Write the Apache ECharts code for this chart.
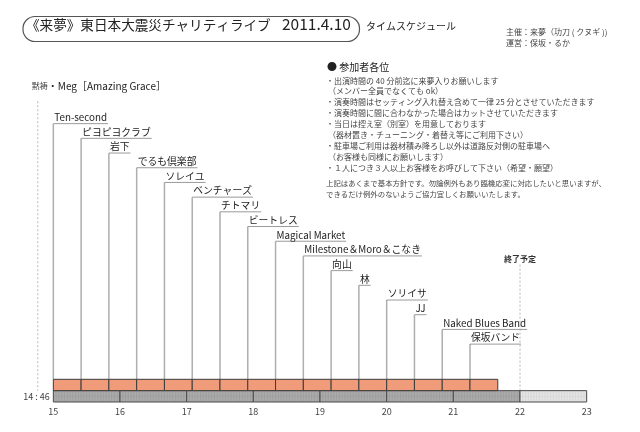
<!DOCTYPE html>
<html>
<head>
<meta charset="utf-8">
<script src="https://cdn.jsdelivr.net/npm/echarts@6/dist/echarts.min.js"></script>
<style>
  html, body { margin: 0; padding: 0; background: #fff; }
  #chart { width: 640px; height: 432px; }
</style>
</head>
<body>
<div id="chart"></div>
<script>
const FONT = '"Noto Sans CJK JP", "Noto Sans", sans-serif';

// 出演者と開始時刻（1 枠 25 分）
const performers = [
  "Ten-second", "ピヨピヨクラブ", "岩下", "でるも倶楽部", "ソレイユ", "ベンチャーズ",
  "チトマリ", "ビートレス", "Magical Market", "Milestone＆Moro＆こなき", "向山", "林",
  "ソリイサ", "JJ", "Naked Blues Band", "保坂バンド"
];
const startTimes = [
  "15:00", "15:25", "15:50", "16:15", "16:40", "17:05", "17:30", "17:55",
  "18:20", "18:45", "19:10", "19:35", "20:00", "20:25", "20:50", "21:15"
];
const slotMinutes = 25;
const hourTicks = [15, 16, 17, 18, 19, 20, 21, 22, 23];

const silenceTime = "14:46";
const silenceLabel = ["黙祷", "・Meg［Amazing Grace］"];
const endTime = "22:00";
const endLabel = "終了予定";

const titleText = "《来夢》東日本大震災チャリティライブ";
const titleDate = "2011.4.10";
const subTitleText = "タイムスケジュール";
const organizers = ["主催：来夢（功刀 ( クヌギ ))", "運営：保坂・るか"];
const noteHeading = "● 参加者各位";
const notes = [
  "・出演時間の 40 分前迄に来夢入りお願いします",
  "（メンバー全員でなくても ok）",
  "・演奏時間はセッティング入れ替え含めて一律 25 分とさせていただきます",
  "・演奏時間に間に合わなかった場合はカットさせていただきます",
  "・当日は控え室（別室）を用意しております",
  "（器材置き・チューニング・着替え等にご利用下さい）",
  "・駐車場ご利用は器材積み降ろし以外は道路反対側の駐車場へ",
  "（お客様も同様にお願いします）",
  "・１人につき３人以上お客様をお呼びして下さい（希望・願望）"
];
const policy = [
  "上記はあくまで基本方針です。勿論例外もあり臨機応変に対応したいと思いますが、",
  "できるだけ例外のないようご協力宜しくお願いいたします。"
];

function toHours(s) {
  const [h, m] = s.split(":").map(Number);
  return h + m / 60;
}

const measureCtx = document.createElement("canvas").getContext("2d");
function textWidth(text, font) {
  measureCtx.font = font;
  return measureCtx.measureText(text).width;
}

const LABEL_FONT = "9.8px " + FONT;
const endHours = toHours(endTime);

// 行の高さ（y 軸の単位）
const GRAY_ROW = [0, 1];
const ORANGE_ROW = [1, 2];
const LABEL_BASE = 5.1;
const LABEL_STEP = 1.295;

const chart = echarts.init(document.getElementById("chart"));

function renderTimeline(params, api) {
  const h0 = api.value(0);
  const h1 = api.value(1);
  const p0 = api.coord([h0, GRAY_ROW[1]]);
  const p1 = api.coord([h1, GRAY_ROW[0]]);
  const after = h0 >= endHours;
  const children = [{
    type: "rect",
    shape: {x: p0[0], y: p0[1], width: p1[0] - p0[0], height: p1[1] - p0[1]},
    style: {fill: after ? "#e4e4e4" : "#ababab", stroke: "none"}
  }];
  // 細かい格子模様
  const steps = 24;
  for (let k = 1; k < steps; k++) {
    const x = p0[0] + (p1[0] - p0[0]) * k / steps;
    children.push({
      type: "line",
      shape: {x1: x, y1: p0[1], x2: x, y2: p1[1]},
      style: {stroke: after ? "#d2d2d2" : "#9a9a9a", lineWidth: 0.7}
    });
  }
  const midY = (p0[1] + p1[1]) / 2;
  children.push({
    type: "line",
    shape: {x1: p0[0], y1: midY, x2: p1[0], y2: midY},
    style: {stroke: after ? "#d6d6d6" : "#9e9e9e", lineWidth: 0.6}
  });
  children.push({
    type: "rect",
    shape: {x: p0[0], y: p0[1], width: p1[0] - p0[0], height: p1[1] - p0[1]},
    style: {fill: "none", stroke: "#4a4a4a", lineWidth: 1}
  });
  return {type: "group", children};
}

function renderSlot(params, api) {
  const t = api.value(0);
  const p0 = api.coord([t, ORANGE_ROW[1]]);
  const p1 = api.coord([t + slotMinutes / 60, ORANGE_ROW[0]]);
  return {
    type: "rect",
    shape: {x: p0[0], y: p0[1], width: p1[0] - p0[0], height: p1[1] - p0[1]},
    style: {fill: "#f09b79", stroke: "#3c3c3c", lineWidth: 1}
  };
}

function renderLabel(params, api) {
  const i = params.dataIndex;
  const t = api.value(0);
  const name = performers[i];
  const level = LABEL_BASE + (performers.length - 1 - i) * LABEL_STEP;
  const top = api.coord([t, level]);
  const bottom = api.coord([t, ORANGE_ROW[1]]);
  const w = textWidth(name, LABEL_FONT);
  return {
    type: "group",
    children: [
      {
        type: "line",
        shape: {x1: top[0], y1: top[1], x2: bottom[0], y2: bottom[1]},
        style: {stroke: "#aeaeae", lineWidth: 1.5}
      },
      {
        type: "line",
        shape: {x1: top[0], y1: top[1], x2: top[0] + w + 2, y2: top[1]},
        style: {stroke: "#9a9a9a", lineWidth: 1}
      },
      {
        type: "text",
        style: {
          text: name, x: top[0] + 1, y: top[1] - 1.5,
          font: LABEL_FONT, fill: "#222", align: "left", verticalAlign: "bottom"
        }
      }
    ]
  };
}

function renderMarker(params, api) {
  const t = api.value(0);
  const topLevel = api.value(1);
  const isEnd = params.dataIndex === 1;
  const top = api.coord([t, topLevel]);
  const bottom = api.coord([t, ORANGE_ROW[0]]);
  const children = [{
    type: "line",
    shape: {x1: top[0], y1: top[1], x2: bottom[0], y2: bottom[1]},
    style: {stroke: "#b8b8b8", lineWidth: 1, lineDash: [2, 2]}
  }];
  if (isEnd) {
    children.push({
      type: "text",
      style: {
        text: endLabel, x: top[0], y: top[1] - 6, font: "bold 8px " + FONT,
        fill: "#333", align: "center", verticalAlign: "middle"
      }
    });
  } else {
    children.push({
      type: "text",
      style: {
        text: "{a|" + silenceLabel[0] + "}{b|" + silenceLabel[1] + "}",
        x: top[0] - 6, y: top[1] - 15, align: "left", verticalAlign: "middle",
        rich: {
          a: {font: "8px " + FONT, fill: "#444"},
          b: {font: "10px " + FONT, fill: "#222"}
        }
      }
    });
    children.push({
      type: "text",
      style: {
        text: silenceTime.replace(":", " : "), x: top[0] + 12, y: (bottom[1] + api.coord([t, GRAY_ROW[0]])[1]) / 2,
        font: "9px " + FONT, fill: "#444", align: "right", verticalAlign: "middle"
      }
    });
  }
  return {type: "group", children};
}

const segments = hourTicks.slice(0, -1).map((h, i) => [h, hourTicks[i + 1]]);

const graphics = [
  {
    type: "rect", left: 20.5, top: 14,
    shape: {width: 336.5, height: 25, r: 12},
    style: {fill: "none", stroke: "#555", lineWidth: 1.2}
  },
  {
    type: "text", left: 26, top: 18,
    style: {text: titleText, font: "13.6px " + FONT, fill: "#222"}
  },
  {
    type: "text", left: 282, top: 16.5,
    style: {text: titleDate, font: "15.5px " + FONT, fill: "#222"}
  },
  {
    type: "text", left: 366, top: 21,
    style: {text: subTitleText, font: "10px " + FONT, fill: "#222"}
  },
  {
    type: "text", left: 506, top: 28,
    style: {text: organizers[0], font: "8px " + FONT, fill: "#444"}
  },
  {
    type: "text", left: 506, top: 39,
    style: {text: organizers[1], font: "8px " + FONT, fill: "#444"}
  },
  {
    type: "text", left: 327, top: 62.5,
    style: {text: noteHeading, font: "10px " + FONT, fill: "#222"}
  }
];
notes.forEach((line, i) => {
  const sub = line.startsWith("（");
  graphics.push({
    type: "text", left: sub ? 328 : 326, top: 76.5 + i * 10.9,
    style: {text: line, font: "8px " + FONT, fill: "#444"}
  });
});
policy.forEach((line, i) => {
  graphics.push({
    type: "text", left: 326, top: 179.5 + i * 11,
    style: {text: line, font: "7.4px " + FONT, fill: "#444"}
  });
});

chart.setOption({
  animation: false,
  grid: {left: 53.33, right: 53.33, top: 61.5, bottom: 30},
  xAxis: {
    type: "value", min: 15, max: 23, interval: 1,
    axisLine: {show: false}, axisTick: {show: false}, splitLine: {show: false},
    axisLabel: {fontSize: 9, color: "#444", fontFamily: FONT, margin: 5}
  },
  yAxis: {type: "value", min: 0, max: 30, show: false},
  graphic: graphics,
  series: [
    {
      type: "custom", renderItem: renderMarker, silent: true,
      data: [[toHours(silenceTime), 26.5], [endHours, 12.1]]
    },
    {
      type: "custom", renderItem: renderLabel, silent: true,
      data: startTimes.map((s) => [toHours(s)])
    },
    {
      type: "custom", renderItem: renderTimeline, silent: true,
      data: segments
    },
    {
      type: "custom", renderItem: renderSlot, silent: true,
      data: startTimes.map((s) => [toHours(s)])
    }
  ]
});
</script>
</body>
</html>
